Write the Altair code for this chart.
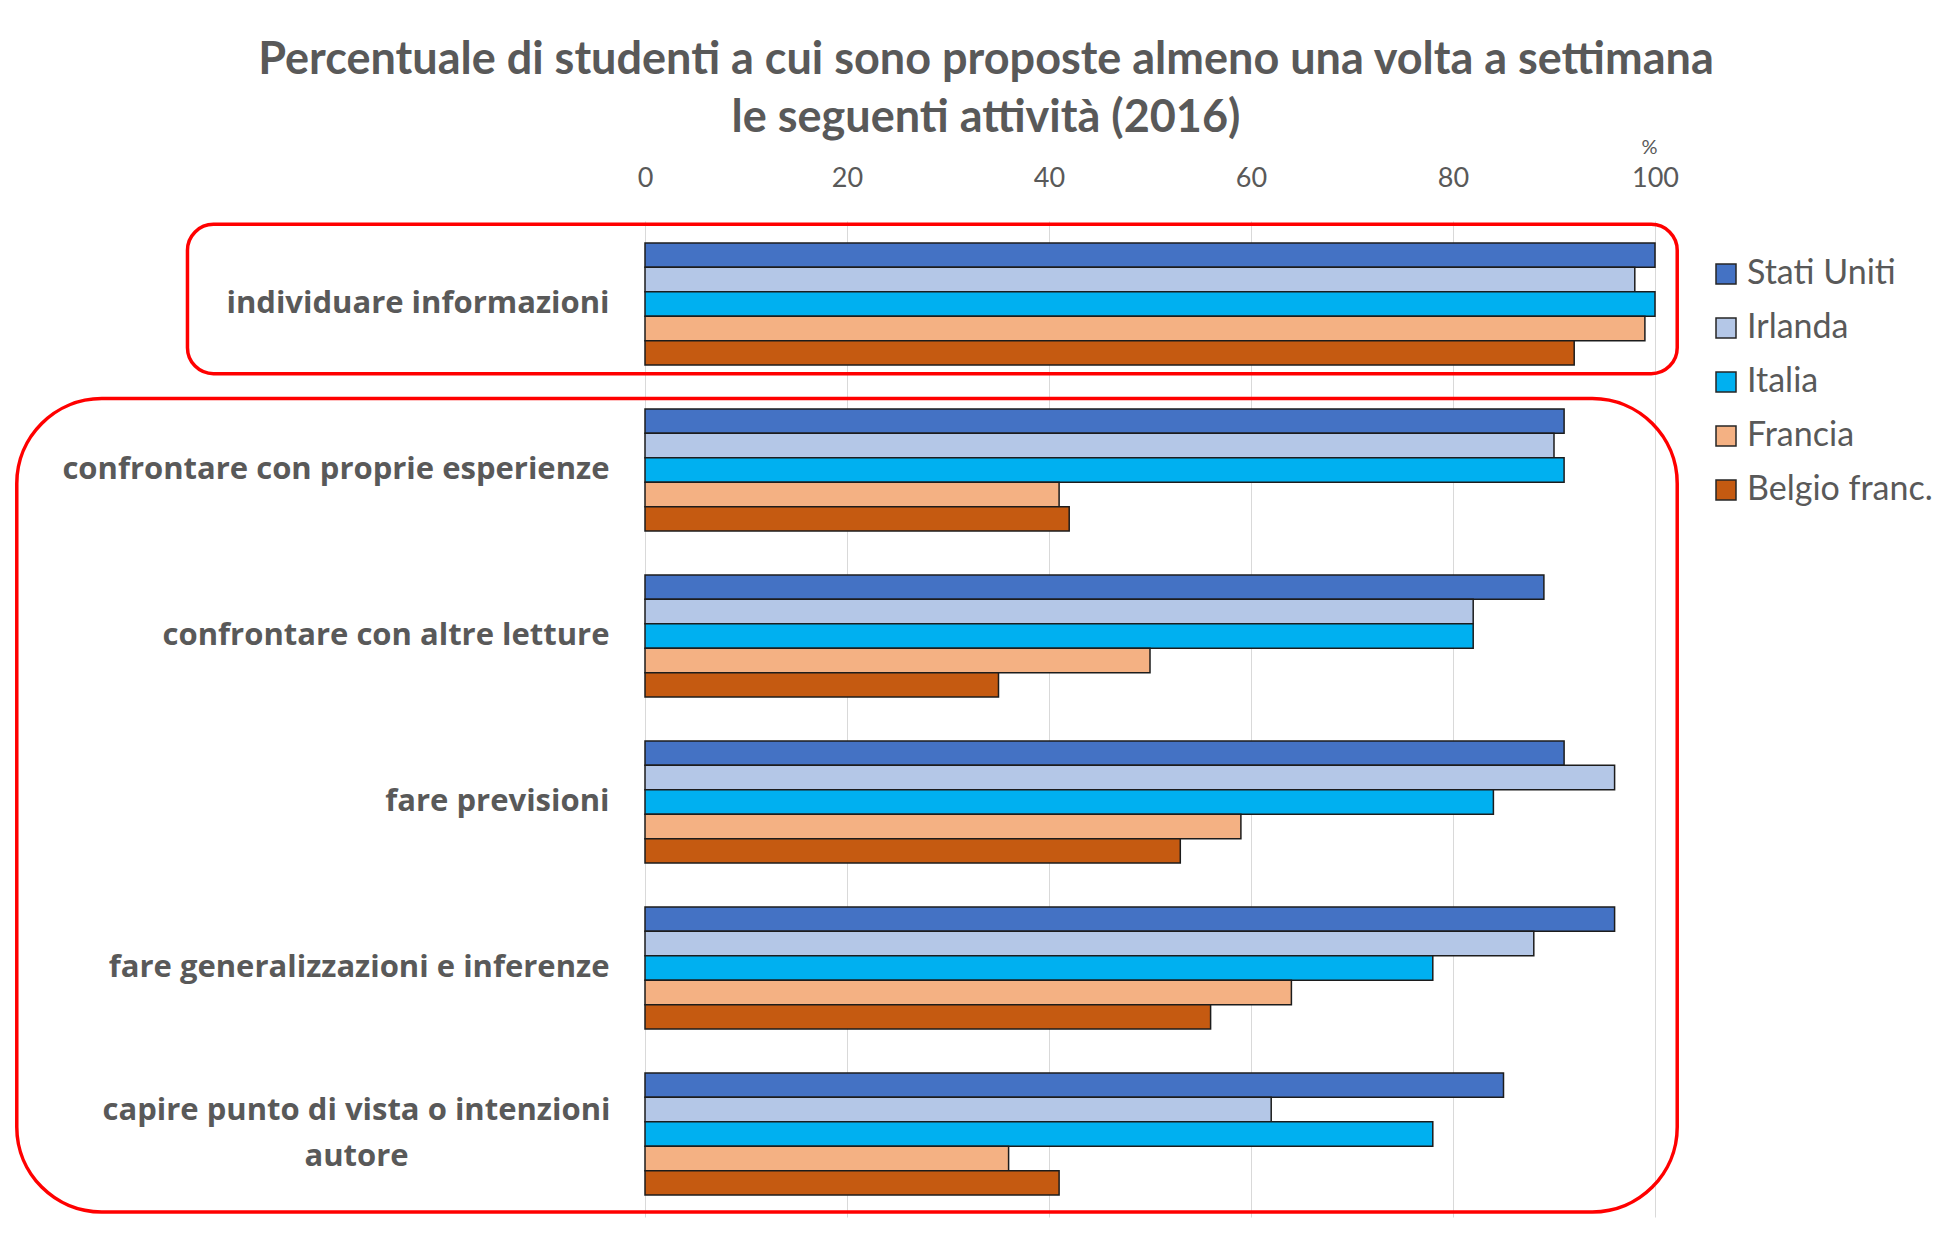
import altair as alt
import pandas as pd

# ---------------- data ----------------
categorie = [
    "individuare informazioni",
    "confrontare con proprie esperienze",
    "confrontare con altre letture",
    "fare previsioni",
    "fare generalizzazioni e inferenze",
    "capire punto di vista o intenzioni autore",
]
paesi = ["Stati Uniti", "Irlanda", "Italia", "Francia", "Belgio franc."]
stati_uniti = [100, 91, 89, 91, 96, 85]
irlanda = [98, 90, 82, 96, 88, 62]
italia = [100, 91, 82, 84, 78, 78]
francia = [99, 41, 50, 59, 64, 36]
belgio = [92, 42, 35, 53, 56, 41]
colori = ["#4472C4", "#B4C7E7", "#00B0F0", "#F4B183", "#C55A11"]
tick_x = [0, 20, 40, 60, 80, 100]

titolo = [
    "Percentuale di studenti a cui sono proposte almeno una volta a settimana",
    "le seguenti attività (2016)",
]

# annotation boxes (red rounded frames), in data units: x in %, y in row index
box_id = [1, 2]
box_x0 = [-45.3, -62.2]
box_x1 = [102.2, 102.2]
box_y0 = [0.02, 1.07]
box_y1 = [0.92, 5.97]

serie = [stati_uniti, irlanda, italia, francia, belgio]
rows = []
for p, vals in zip(paesi, serie):
    for c, v in zip(categorie, vals):
        rows.append({"attivita": c, "paese": p, "valore": v})
df = pd.DataFrame(rows)

box_df = pd.DataFrame({"id": box_id, "x0": box_x0, "x1": box_x1, "y0": box_y0, "y1": box_y1})

GRAY = "#595959"
LONG = "capire punto di vista o intenzioni autore"

x_axis = alt.Axis(
    orient="top",
    values=tick_x,
    title="%",
    titleAngle=0,
    titleX=1004,
    titleY=-74,
    titleAlign="center",
    titleBaseline="middle",
    titleFont="Lato",
    titleFontSize=20,
    titleFontWeight="normal",
    titleColor=GRAY,
    labelFont="Lato",
    labelFontSize=27,
    labelColor=GRAY,
    labelPadding=29,
    labelFlush=False,
    ticks=False,
    domain=False,
    grid=True,
    gridColor="#D9D9D9",
    gridWidth=1,
)
x_scale = alt.Scale(domain=[0, 100], nice=False)

label_expr = (
    f"datum.value == '{LONG}' ? "
    "['capire punto di vista o intenzioni', 'autore'] : datum.value"
)

bars = alt.Chart(df).mark_bar(stroke="#1c1c1c", strokeWidth=1.5, clip=False).encode(
    x=alt.X("valore:Q", scale=x_scale, axis=x_axis),
    y=alt.Y(
        "attivita:N",
        sort=categorie,
        scale=alt.Scale(paddingInner=0.264, paddingOuter=0.132),
        axis=alt.Axis(
            title=None,
            ticks=False,
            domain=False,
            labelExpr=label_expr,
            labelFont="Open Sans",
            labelFontSize=31,
            labelFontWeight="bold",
            labelColor=GRAY,
            labelLimit=800,
            labelLineHeight=46,
            labelAlign=alt.ExprRef(f"datum.value == '{LONG}' ? 'center' : 'right'"),
            labelPadding=alt.ExprRef(f"datum.value == '{LONG}' ? 289 : 36"),
            labelOffset=alt.ExprRef(f"datum.value == '{LONG}' ? -23 : 0"),
        ),
    ),
    yOffset=alt.YOffset("paese:N", sort=paesi, scale=alt.Scale(paddingInner=0, paddingOuter=0)),
    fill=alt.Fill(
        "paese:N",
        sort=paesi,
        scale=alt.Scale(domain=paesi, range=colori),
        legend=alt.Legend(
            title=None,
            orient="none",
            legendX=1064,
            legendY=36,
            padding=0,
            symbolType="square",
            symbolSize=400,
            symbolStrokeColor="#262626",
            symbolStrokeWidth=1.5,
            labelFont="Lato",
            labelFontSize=34,
            labelColor=GRAY,
            labelOffset=4,
            rowPadding=20,
            labelLimit=400,
        ),
    ),
)

def box_layer(i, radius):
    return (
        alt.Chart(box_df)
        .transform_filter(alt.datum.id == i)
        .mark_rect(fillOpacity=0, stroke="#FF0000", strokeWidth=3.5, cornerRadius=radius, clip=False)
        .encode(
            x=alt.X("x0:Q", scale=x_scale, axis=x_axis),
            x2="x1:Q",
            y=alt.Y("y0:Q", scale=alt.Scale(domain=[0, 6], reverse=True, nice=False, zero=False), axis=None),
            y2="y1:Q",
        )
    )

boxes = box_layer(1, 26) + box_layer(2, 85)

chart = (
    alt.layer(bars, boxes)
    .resolve_scale(y="independent")
    .resolve_axis(y="independent")
    .properties(
        width=1010,
        height=996,
        title=alt.TitleParams(
            text=titolo,
            font="Lato",
            fontSize=45,
            fontWeight="bold",
            color=GRAY,
            lineHeight=58,
            anchor="middle",
            frame="group",
            dx=-164,
            dy=12,
            offset=8,
        ),
        autosize=alt.AutoSizeParams(type="none"),
        padding={"left": 637, "top": 213, "right": 291, "bottom": 10},
        background="white",
    )
    .configure_view(stroke=None)
)

chart.save("out.html", embed_options={"renderer": "svg", "actions": False})
